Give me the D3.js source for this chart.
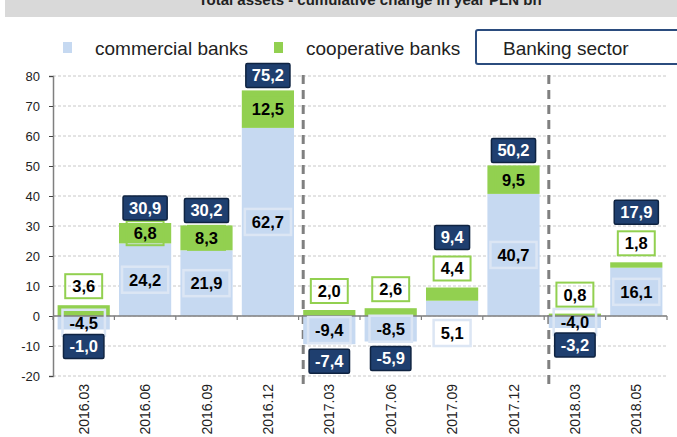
<!DOCTYPE html>
<html>
<head>
<meta charset="utf-8">
<script src="https://cdn.jsdelivr.net/npm/d3@7"></script>
<style>
  body { margin: 0; background: #fff; }
  svg { display: block; font-family: Arial, "Liberation Sans", sans-serif; }
</style>
</head>
<body>
<svg width="677" height="437"></svg>
<script>
// data
var categories = ['2016.03', '2016.06', '2016.09', '2016.12', '2017.03', '2017.06', '2017.09', '2017.12', '2018.03', '2018.05']
var commercial = [-4.5, 24.2, 21.9, 62.7, -9.4, -8.5, 5.1, 40.7, -4.0, 16.1]
var cooperative = [3.6, 6.8, 8.3, 12.5, 2.0, 2.6, 4.4, 9.5, 0.8, 1.8]
var sector = [-1.0, 30.9, 30.2, 75.2, -7.4, -5.9, 9.4, 50.2, -3.2, 17.9]
var yTicks = [80, 70, 60, 50, 40, 30, 20, 10, 0, -10, -20]
var yearBreaks = ['2017.03', '2018.03']

var blue = '#c6d9f1'
var green = '#92d050'
var navy = '#1f3f6f'

var svg = d3.select('svg')

var x = d3.scaleBand().domain(categories).range([53, 667]).paddingInner(0.15).paddingOuter(0.075)
var y = d3.scaleLinear().domain([-20, 80]).range([376, 76])

var fmt = function (v) { return d3.format('.1f')(v).replace('.', ',').replace('−', '-') }

// title band (cut at the top, as in the source)
svg.append('rect').attr('x', 5).attr('y', 0).attr('width', 672).attr('height', 17).attr('fill', '#d9d9d9')
svg.append('text').attr('x', 370).attr('y', 5).attr('text-anchor', 'middle')
    .attr('font-size', 15).attr('font-weight', 'bold').attr('fill', '#222')
    .text('Total assets - cumulative change in year PLN bn')

// gridlines
svg.append('g').selectAll('line').data(yTicks).enter().append('line')
    .attr('x1', 53).attr('x2', 667)
    .attr('y1', d => y(d)).attr('y2', d => y(d))
    .attr('stroke', '#c8c8c8').attr('stroke-width', 1).attr('stroke-dasharray', '3,2')

// year separators
svg.append('g').selectAll('line').data(yearBreaks).enter().append('line')
    .attr('x1', d => x(d)).attr('x2', d => x(d))
    .attr('y1', y(80) - 1).attr('y2', y(-20) + 10)
    .attr('stroke', '#808080').attr('stroke-width', 3).attr('stroke-dasharray', '9,6')

// stacked bars
var rows = categories.map(function (c, i) {
    var base = commercial[i] > 0 ? commercial[i] : 0
    return { cat: c, com: commercial[i], coop: cooperative[i], sec: sector[i], base: base }
})

svg.append('g').selectAll('rect').data(rows).enter().append('rect')
    .attr('x', d => x(d.cat)).attr('width', x.bandwidth())
    .attr('y', d => y(Math.max(0, d.com))).attr('height', d => Math.abs(y(d.com) - y(0)))
    .attr('fill', blue)

svg.append('g').selectAll('rect').data(rows).enter().append('rect')
    .attr('x', d => x(d.cat)).attr('width', x.bandwidth())
    .attr('y', d => y(d.base + d.coop)).attr('height', d => y(d.base) - y(d.base + d.coop))
    .attr('fill', green)

// axes
var yAxis = d3.axisLeft(y).tickValues(yTicks).tickSize(4).tickFormat(d3.format('d'))
var gy = svg.append('g').attr('transform', 'translate(53,0)').call(yAxis)
gy.select('.domain').attr('stroke', '#7f7f7f').attr('stroke-width', 1.5)
gy.selectAll('.tick line').attr('stroke', '#444')
gy.selectAll('.tick text').attr('font-size', 13).attr('fill', '#222').attr('x', -13)
    .attr('font-family', 'Arial, "Liberation Sans", sans-serif')
    .text(d => d < 0 ? '-' + Math.abs(d) : d)

// zero line with ticks at band edges
svg.append('line').attr('x1', 53).attr('x2', 667).attr('y1', y(0)).attr('y2', y(0))
    .attr('stroke', '#7f7f7f').attr('stroke-width', 1.5)
var edges = categories.map(c => x(c) - x.step() * x.paddingInner() / 2)
edges.push(667)
svg.append('g').selectAll('line').data(edges).enter().append('line')
    .attr('x1', d => d).attr('x2', d => d).attr('y1', y(0)).attr('y2', y(0) + 4)
    .attr('stroke', '#7f7f7f').attr('stroke-width', 1.2)

// category labels
svg.append('g').selectAll('text').data(categories).enter().append('text')
    .attr('transform', d => 'translate(' + (x(d) + x.bandwidth() / 2 + 5) + ',384) rotate(-90)')
    .attr('text-anchor', 'end').attr('font-size', 14).attr('fill', '#222')
    .text(d => d)

// value labels
function label(cx, cy, txt, kind) {
    var g = svg.append('g')
    var t = g.append('text').attr('x', cx).attr('y', cy).attr('dy', '0.36em')
        .attr('text-anchor', 'middle').attr('font-size', 16.5).attr('font-weight', 'bold')
        .attr('fill', kind === 'sec' ? '#fff' : '#000').text(txt)
    var w = t.node().getComputedTextLength() + (kind === 'sec' ? 12 : 14)
    var h = kind === 'com' ? 26 : 24
    var r = g.insert('rect', 'text').attr('x', cx - w / 2).attr('y', cy - h / 2)
        .attr('width', w).attr('height', h)
    if (kind === 'sec') r.attr('fill', navy).attr('stroke', '#0f2341').attr('stroke-width', 1.5).attr('rx', 1.5)
    else if (kind === 'com') r.attr('fill', 'none').attr('stroke', '#dce6f4').attr('stroke-width', 2.5)
    else r.attr('fill', 'none').attr('stroke', green).attr('stroke-width', 2)
}

rows.forEach(function (d) {
    var cx = x(d.cat) + x.bandwidth() / 2
    var top = d.base + d.coop
    // commercial
    var comY = (d.com > 0 && d.com < 8) ? y(0) + 17 : y(d.com / 2)
    label(cx, comY, fmt(d.com), 'com')
    // cooperative
    var inside = d.coop >= 5
    var coopY = inside ? y(d.base + d.coop / 2) : y(top) - 19
    label(cx, coopY, fmt(d.coop), 'coop')
    // banking sector
    var secY
    if (d.sec >= 0) secY = inside ? y(top) - 15 : coopY - 31
    else secY = y(Math.min(d.com, 0)) + 17
    label(cx, secY, fmt(d.sec), 'sec')
})

// legend
var leg = svg.append('g')
leg.append('rect').attr('x', 63).attr('y', 42).attr('width', 9).attr('height', 11).attr('fill', blue)
leg.append('text').attr('x', 95).attr('y', 55).attr('font-size', 19).attr('fill', '#222').text('commercial banks')
leg.append('rect').attr('x', 274).attr('y', 42).attr('width', 9).attr('height', 11).attr('fill', green)
leg.append('text').attr('x', 306).attr('y', 55).attr('font-size', 19).attr('fill', '#222').text('cooperative banks')
leg.append('rect').attr('x', 476).attr('y', 30).attr('width', 220).attr('height', 34).attr('rx', 2)
    .attr('fill', '#fff').attr('stroke', '#2b4c7e').attr('stroke-width', 2)
leg.append('text').attr('x', 503).attr('y', 55).attr('font-size', 19).attr('fill', '#222').text('Banking sector')
</script>
</body>
</html>
